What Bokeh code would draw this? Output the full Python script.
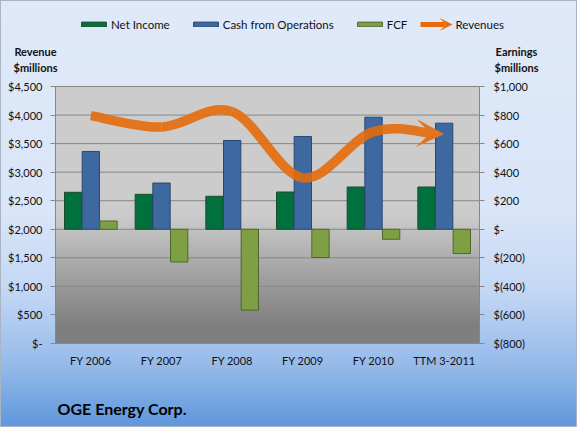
import numpy as np
from bokeh.plotting import figure
from bokeh.models import (Range1d, LinearAxis, FixedTicker, CustomJSTickFormatter,
                          Label, Legend, LegendItem, Arrow, VeeHead, ColumnDataSource)
from bokeh.transform import dodge
from bokeh.embed import file_html
from bokeh.resources import INLINE

# ---------------- data ----------------
categories = ["FY 2006", "FY 2007", "FY 2008", "FY 2009", "FY 2010", "TTM 3-2011"]
net_income = [259, 245, 231, 261, 296, 296]
cash_from_operations = [545, 324, 622, 650, 785, 743]
fcf = [58, -229, -566, -198, -70, -170]
revenues = [3990, 3790, 4060, 2900, 3710, 3670]
revenue_ticks = [0, 500, 1000, 1500, 2000, 2500, 3000, 3500, 4000, 4500]
earnings_ticks = [-800, -600, -400, -200, 0, 200, 400, 600, 800, 1000]
series_names = ["Net Income", "Cash from Operations", "FCF", "Revenues"]
chart_title = "OGE Energy Corp."
left_title = ["Revenue", "$millions"]
right_title = ["Earnings", "$millions"]

# ---------------- layout / style ----------------
W, H = 577, 427
PL, PR, PT, PB = 55, 479, 86, 343          # plot-area edges in pixels
FONT = "Lato"
ORANGE = "#E46C0A"
GRID = "#878787"
TXT = "#111111"
xs = list(range(len(categories)))

# the frame covers the whole canvas; ranges are set so the plot area sits at PL..PR / PT..PB
xlo, xhi = -0.5, len(categories) - 0.5
kx = (xhi - xlo) / (PR - PL)
ylo, yhi = revenue_ticks[0], revenue_ticks[-1]
ky = (yhi - ylo) / (PB - PT)
elo, ehi = earnings_ticks[0], earnings_ticks[-1]
ke = (ehi - elo) / (PB - PT)

p = figure(width=W, height=H, output_backend="svg", toolbar_location=None,
           x_range=Range1d(xlo - PL * kx, xhi + (W - PR) * kx),
           y_range=Range1d(ylo - (H - PB) * ky, yhi + PT * ky),
           min_border=0, min_border_left=0, min_border_right=0,
           min_border_top=0, min_border_bottom=0)
p.title.visible = False
p.extra_y_ranges = {"earn": Range1d(elo - (H - PB) * ke, ehi + PT * ke)}
p.background_fill_alpha = 0
p.border_fill_alpha = 0
p.outline_line_alpha = 0
p.grid.visible = False
p.styles = {"background": "linear-gradient(to bottom, #dfe9f9 0%, #d9e5f8 50%, #c3d7f4 68%, #97bbea 85%, #5e97dc 100%)",
            "box-shadow": "inset 0 0 0 1px #a9b4c4"}

# plot-area gradient (grey)
ny = 256
tt = 1.0 - (np.arange(ny) + 0.5) / ny
g = np.where(tt < 0.5, 204, np.where(tt > 0.93, 127, 204 - (tt - 0.5) / 0.43 * 77)).astype(np.uint8)
img = np.zeros((ny, 1), dtype=np.uint32)
v = img.view(dtype=np.uint8).reshape((ny, 1, 4))
v[:, 0, 0] = g
v[:, 0, 1] = g
v[:, 0, 2] = g
v[:, 0, 3] = 255
p.image_rgba(image=[img], x=xlo, y=ylo, dw=xhi - xlo, dh=yhi - ylo, level="image")

# horizontal gridlines at the revenue ticks, across the plot area
p.segment(x0=[xlo] * len(revenue_ticks), x1=[xhi] * len(revenue_ticks),
          y0=revenue_ticks, y1=revenue_ticks, line_color=GRID, line_width=1)

# bars
src = ColumnDataSource(dict(x=xs, ni=net_income, cfo=cash_from_operations, fcf=fcf))
bw = 0.245
r_ni = p.vbar(x=dodge("x", -0.25), top="ni", bottom=0, width=bw, source=src, y_range_name="earn",
              fill_color="#00703C", line_color="#1D4A2B", line_width=1)
r_cfo = p.vbar(x=dodge("x", 0.0), top="cfo", bottom=0, width=bw, source=src, y_range_name="earn",
               fill_color="#3D68A0", line_color="#2A4770", line_width=1)
r_fcf = p.vbar(x=dodge("x", 0.25), top="fcf", bottom=0, width=bw, source=src, y_range_name="earn",
               fill_color="#7F9F45", line_color="#4E6729", line_width=1)

# smoothed revenue line (Catmull-Rom style bezier through the data points)
n = len(xs)
P = np.array(list(zip(xs, revenues)), dtype=float)
x0, y0, x1, y1, cx0, cy0, cx1, cy1 = ([] for _ in range(8))
tail_start = None
for i in range(n - 1):
    pp = P[max(i - 1, 0)]
    a = P[i]
    b = P[i + 1]
    nx = P[min(i + 2, n - 1)]
    c0 = a + (b - pp) / 6.0
    c1 = b - (nx - a) / 6.0
    end = b.copy()
    if i == n - 2:
        tail_start = c1.copy()
        shift = (b - c1) * 0.85
        end = b - shift
        c1 = c1 - shift
    x0.append(a[0]); y0.append(a[1]); x1.append(end[0]); y1.append(end[1])
    cx0.append(c0[0]); cy0.append(c0[1]); cx1.append(c1[0]); cy1.append(c1[1])
p.bezier(x0=x0, y0=y0, x1=x1, y1=y1, cx0=cx0, cy0=cy0, cx1=cx1, cy1=cy1,
         line_color=ORANGE, line_width=9.5, line_alpha=0.9)
p.add_layout(Arrow(end=VeeHead(size=28, fill_color="#E3731D", line_alpha=0),
                   x_start=tail_start[0], y_start=tail_start[1],
                   x_end=xs[-1], y_end=revenues[-1], line_alpha=0))

# axes, pinned to the plot-area edges
left_fmt = CustomJSTickFormatter(code="""
if (tick == 0) return "$-";
return "$" + Math.abs(tick).toLocaleString("en-US");
""")
right_fmt = CustomJSTickFormatter(code="""
if (tick == 0) return "$-";
const a = Math.abs(tick).toLocaleString("en-US");
return tick < 0 ? "$(" + a + ")" : "$" + a;
""")
yl = p.yaxis[0]
yl.ticker = FixedTicker(ticks=revenue_ticks)
yl.formatter = left_fmt
yl.fixed_location = xlo
yl.bounds = (ylo, yhi)
yl.major_label_standoff = 8
yr = LinearAxis(y_range_name="earn", ticker=FixedTicker(ticks=earnings_ticks), formatter=right_fmt,
                fixed_location=xhi, bounds=(elo, ehi))
yr.major_label_standoff = 9
p.add_layout(yr, "right")
for ax in (yl, yr):
    ax.major_tick_out = 5
    ax.major_tick_in = 0
    ax.minor_tick_line_color = None
    ax.axis_line_color = GRID
    ax.major_tick_line_color = GRID
    ax.major_label_text_font = FONT
    ax.major_label_text_font_size = "11px"
    ax.major_label_text_color = TXT

xa = p.xaxis[0]
xa.ticker = FixedTicker(ticks=xs)
xa.major_label_overrides = {i: c for i, c in zip(xs, categories)}
xa.fixed_location = ylo
xa.bounds = (xlo, xhi)
xa.major_tick_out = 0
xa.major_tick_in = 0
xa.minor_tick_line_color = None
xa.axis_line_color = GRID
xa.major_label_standoff = 10
xa.major_label_text_font = FONT
xa.major_label_text_font_size = "11px"
xa.major_label_text_color = TXT

# the plot-area top edge
p.segment(x0=[xlo], x1=[xhi], y0=[yhi], y1=[yhi], line_color=GRID, line_width=1)

# legend (screen units: from the canvas bottom-left, since the frame fills the canvas)
p.add_layout(Legend(items=[LegendItem(label=series_names[0], renderers=[r_ni]),
                           LegendItem(label=series_names[1], renderers=[r_cfo]),
                           LegendItem(label=series_names[2], renderers=[r_fcf])],
                    orientation="horizontal", location=(78, H - 31),
                    glyph_width=31, glyph_height=6, label_standoff=2, spacing=20,
                    padding=0, margin=0, border_line_alpha=0, background_fill_alpha=0,
                    label_text_font=FONT, label_text_font_size="11.5px", label_height=14,
                    label_text_color=TXT))
p.add_layout(Arrow(end=VeeHead(size=13, fill_color=ORANGE, line_alpha=0),
                   x_start=420, y_start=H - 24, x_end=452, y_end=H - 24,
                   start_units="screen", end_units="screen",
                   line_color=ORANGE, line_width=5))
p.add_layout(Label(x=455, y=H - 24, x_units="screen", y_units="screen", text=series_names[3],
                   text_font=FONT, text_font_size="11.5px", text_baseline="middle",
                   text_color=TXT))

# axis titles and chart title
for cx, lines in [(35, left_title), (516, right_title)]:
    for t, ty in zip(lines, (51, 67)):
        p.add_layout(Label(x=cx, y=H - ty, x_units="screen", y_units="screen", text=t,
                           text_font=FONT, text_font_size="11px", text_font_style="bold",
                           text_align="center", text_baseline="middle", text_color=TXT))
p.add_layout(Label(x=57, y=H - 408, x_units="screen", y_units="screen", text=chart_title,
                   text_font=FONT, text_font_size="16px", text_font_style="bold",
                   text_baseline="middle", text_color="#000000"))

open("out.html", "w").write(file_html(p, INLINE))
